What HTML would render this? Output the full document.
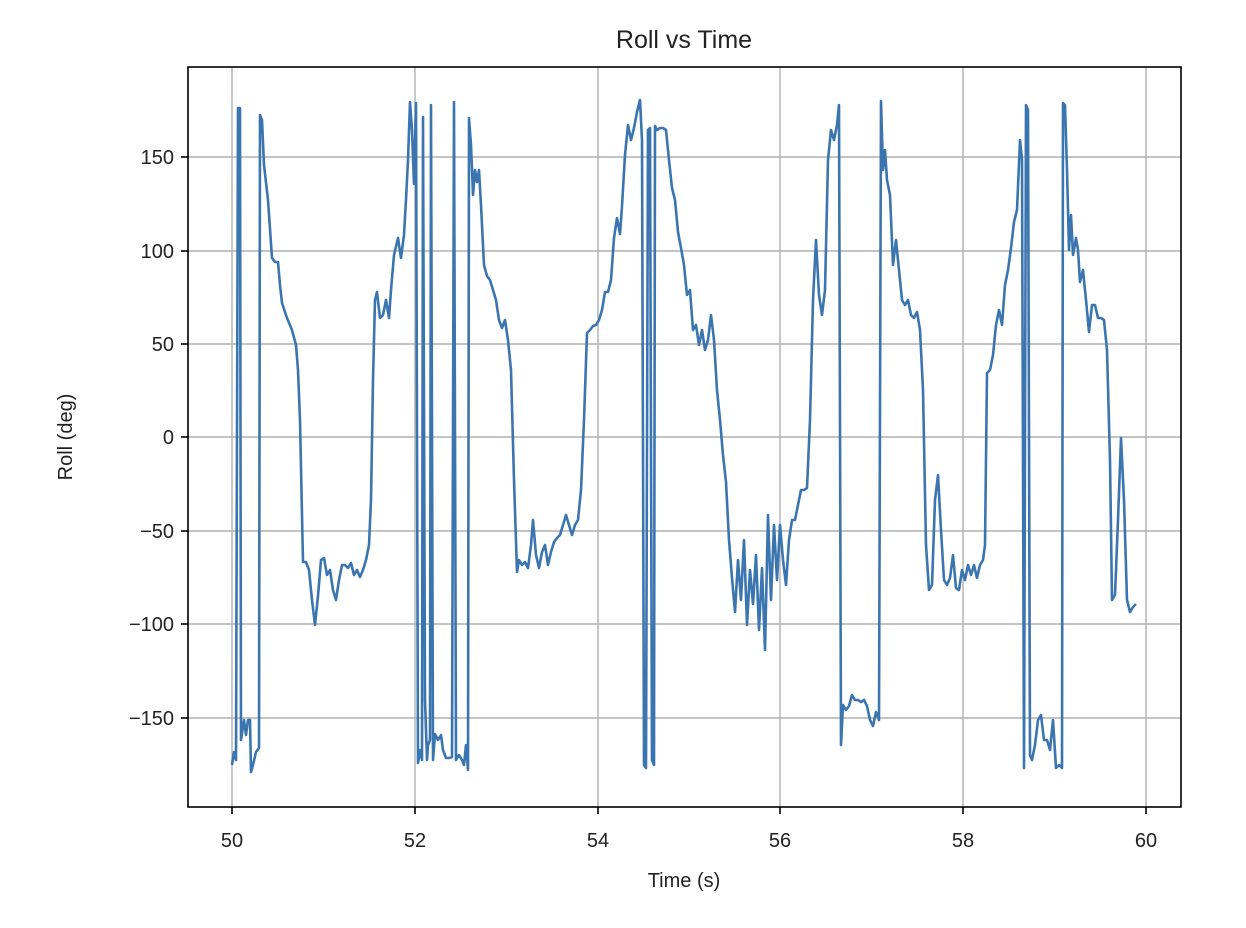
<!DOCTYPE html>
<html><head><style>
body{margin:0;background:#fff;}
svg{display:block;font-family:"Liberation Sans","DejaVu Sans",sans-serif;}
</style></head><body>
<svg width="1246" height="928" viewBox="0 0 1246 928">
<rect width="1246" height="928" fill="#fff"/>
<g stroke="#b0b0b0" stroke-width="1.4">
<line x1="232" y1="67" x2="232" y2="807"/><line x1="415" y1="67" x2="415" y2="807"/>
<line x1="598" y1="67" x2="598" y2="807"/><line x1="780" y1="67" x2="780" y2="807"/>
<line x1="963" y1="67" x2="963" y2="807"/><line x1="1146" y1="67" x2="1146" y2="807"/>
<line x1="188" y1="157" x2="1181" y2="157"/><line x1="188" y1="251" x2="1181" y2="251"/>
<line x1="188" y1="344" x2="1181" y2="344"/><line x1="188" y1="437" x2="1181" y2="437"/>
<line x1="188" y1="531" x2="1181" y2="531"/><line x1="188" y1="624" x2="1181" y2="624"/>
<line x1="188" y1="718" x2="1181" y2="718"/>
</g>
<polyline fill="none" stroke="#3b75af" stroke-width="2.6" stroke-linejoin="round" points="232,765 234,752 236,760 238,108 240,108 241,740 244,720 246,735 248,720 250,720 251,772 253,765 256,752 259,748 260,115 262,120 264,165 268,200 272,258 275,262 278,262 280,285 282,303 287,318 292,330 296,345 298,370 300,420 303,562 306,562 309,570 312,600 315,625 318,596 321,560 324,558 327,575 330,570 333,590 336,600 339,580 342,565 345,565 348,568 351,563 354,575 357,570 360,577 363,570 366,560 369,545 371,500 373,380 375,300 377,292 380,318 383,315 386,300 389,318 391,290 394,255 398,238 401,258 404,235 406,200 408,160 410,102 412,130 414,184 416,103 418,763 420,750 422,760 423,117 425,700 427,760 428,745 430,740 431,105 433,760 435,734 438,740 441,735 443,750 446,758 449,758 452,757 454,102 456,760 459,755 462,760 464,765 466,745 468,770 469,118 471,145 473,195 475,170 477,182 479,170 481,205 484,265 487,276 490,280 493,290 496,300 499,320 502,328 505,320 508,340 511,370 514,480 517,572 519,560 522,565 525,562 528,568 531,545 533,520 536,555 539,568 542,552 545,545 548,565 551,552 554,542 557,538 560,535 563,525 566,515 569,525 572,535 575,525 578,520 581,490 584,420 587,333 590,330 593,326 596,325 599,320 602,310 605,292 608,292 611,280 614,238 617,218 620,234 622,206 625,155 628,125 631,140 634,128 637,112 640,100 642,140 644,765 646,768 648,130 650,128 652,760 654,765 655,126 657,130 660,128 663,128 666,130 669,160 672,188 675,200 678,232 681,248 684,265 687,295 690,290 693,330 696,325 699,345 702,330 705,350 708,340 711,315 714,340 717,390 720,420 723,455 726,482 729,540 732,578 735,612 738,560 741,600 744,540 747,625 750,570 753,604 756,555 759,630 762,568 765,650 768,515 771,600 774,525 777,580 780,525 783,560 786,585 789,540 792,520 795,520 798,505 801,490 804,490 807,488 810,420 813,300 816,240 819,295 822,315 825,290 828,160 831,130 834,140 837,125 839,105 841,745 843,705 846,710 849,706 852,695 855,700 858,700 861,702 864,700 867,706 870,720 873,726 876,712 879,720 881,101 883,170 885,150 887,180 890,195 893,265 896,240 899,270 902,300 905,305 908,300 911,315 914,318 917,312 920,330 923,390 926,545 929,590 932,585 935,500 938,475 941,530 944,580 947,585 950,578 953,555 956,588 959,590 962,570 965,580 968,565 971,575 974,565 977,578 980,565 983,560 985,545 987,373 990,370 993,355 996,325 999,310 1002,325 1005,285 1008,270 1011,248 1014,222 1017,210 1020,140 1022,160 1024,768 1026,105 1028,110 1030,755 1032,760 1035,745 1038,720 1041,715 1044,740 1047,740 1050,750 1053,720 1056,768 1059,765 1062,768 1063,103 1065,105 1067,170 1069,250 1071,215 1073,255 1076,238 1078,250 1080,282 1083,270 1086,300 1089,332 1092,305 1095,305 1098,318 1101,318 1104,320 1107,350 1110,460 1112,600 1115,595 1118,520 1121,438 1124,500 1127,600 1130,612 1133,607 1136,604"/>
<rect x="188" y="67" width="993" height="740" fill="none" stroke="#000" stroke-width="1.6"/>
<g stroke="#000" stroke-width="1.6">
<line x1="232" y1="807" x2="232" y2="814"/><line x1="415" y1="807" x2="415" y2="814"/>
<line x1="598" y1="807" x2="598" y2="814"/><line x1="780" y1="807" x2="780" y2="814"/>
<line x1="963" y1="807" x2="963" y2="814"/><line x1="1146" y1="807" x2="1146" y2="814"/>
<line x1="181" y1="157" x2="188" y2="157"/><line x1="181" y1="251" x2="188" y2="251"/>
<line x1="181" y1="344" x2="188" y2="344"/><line x1="181" y1="437" x2="188" y2="437"/>
<line x1="181" y1="531" x2="188" y2="531"/><line x1="181" y1="624" x2="188" y2="624"/>
<line x1="181" y1="718" x2="188" y2="718"/>
</g>
<g font-size="20" fill="#222" text-anchor="middle">
<text x="232" y="847">50</text><text x="415" y="847">52</text><text x="598" y="847">54</text>
<text x="780" y="847">56</text><text x="963" y="847">58</text><text x="1146" y="847">60</text>
</g>
<g font-size="20" fill="#222" text-anchor="end">
<text x="174" y="164">150</text><text x="174" y="258">100</text><text x="174" y="351">50</text>
<text x="174" y="444">0</text><text x="174" y="538">−50</text><text x="174" y="631">−100</text>
<text x="174" y="725">−150</text>
</g>
<text x="684" y="887" font-size="20" fill="#222" text-anchor="middle">Time (s)</text>
<text transform="translate(72,437) rotate(-90)" font-size="20" fill="#222" text-anchor="middle">Roll (deg)</text>
<text x="684" y="48" font-size="25" fill="#222" text-anchor="middle">Roll vs Time</text>
</svg>
</body></html>
